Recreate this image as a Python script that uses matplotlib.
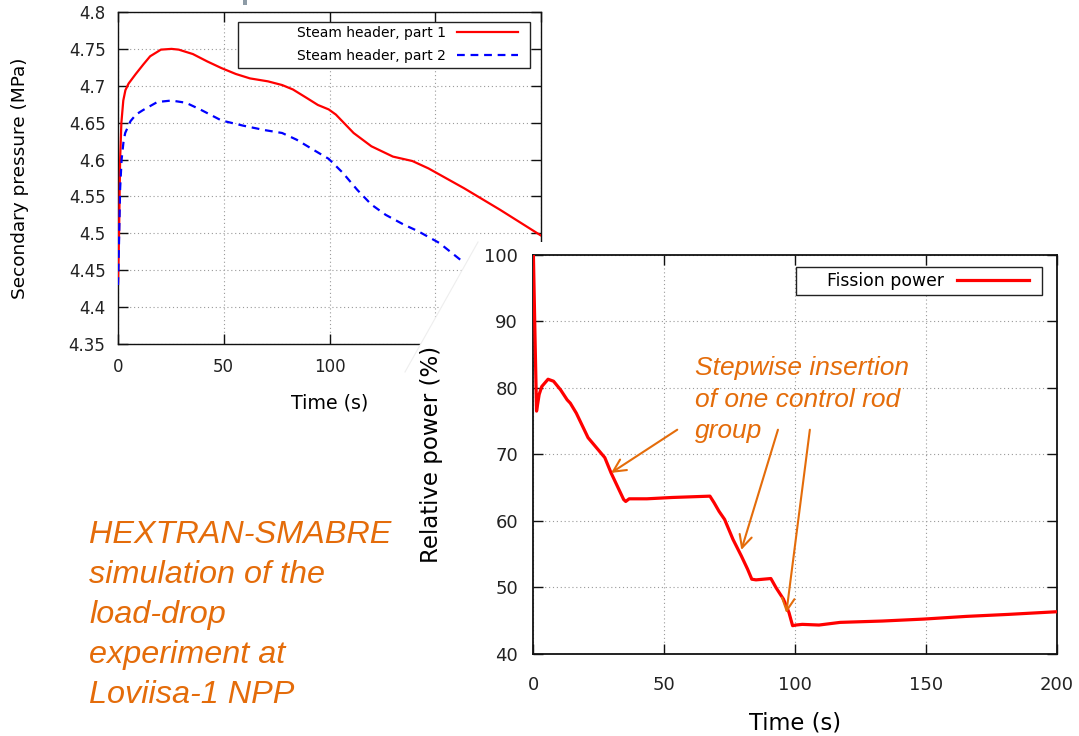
import matplotlib
matplotlib.use("Agg")
import matplotlib.pyplot as plt
from matplotlib.patches import Polygon, Rectangle
from matplotlib.lines import Line2D
from matplotlib.ticker import FuncFormatter

W, H, DPI = 1079, 736, 100

# Secondary side: steam header pressure (MPa) vs time (s)
t_header1 = [0, 0.5, 1.0, 1.6, 2.5, 3.5, 5.0, 8.4, 12.0, 15.2, 20.3, 25.3, 28.7,
             35.4, 42.2, 48.9, 55.7, 62.4, 70.9, 77.6, 82.7, 89.5, 94.5, 99.6,
             103.0, 111.4, 119.8, 130.0, 139.2, 146.8, 163.7, 180.6, 200]
p_header1 = [4.432, 4.50, 4.60, 4.650, 4.680, 4.694, 4.703, 4.716, 4.729, 4.740,
             4.749, 4.750, 4.749, 4.743, 4.733, 4.724, 4.716, 4.710, 4.706, 4.701,
             4.695, 4.683, 4.674, 4.668, 4.661, 4.636, 4.618, 4.604, 4.598, 4.588,
             4.561, 4.532, 4.497]
t_header2 = [0, 0.5, 1.0, 1.7, 2.6, 3.4, 5.9, 8.5, 11.8, 18.6, 25.3, 32.1, 38.8,
             48.9, 59.1, 69.2, 77.6, 84.4, 93.7, 99.6, 106.3, 113.1, 119.8, 126.6,
             135.0, 141.8, 151.9, 163.7]
p_header2 = [4.430, 4.49, 4.56, 4.600, 4.624, 4.636, 4.652, 4.661, 4.667, 4.678,
             4.680, 4.677, 4.668, 4.653, 4.646, 4.640, 4.636, 4.627, 4.611, 4.601,
             4.582, 4.559, 4.539, 4.525, 4.512, 4.503, 4.487, 4.460]

# Core: relative fission power (%) vs time (s)
t_power = [0, 0.6, 1.2, 2.2, 3.2, 5.6, 7.7, 10.4, 12.9, 14.1, 16.4, 20.9, 24.1,
           27.3, 29.7, 32.1, 34.5, 35.3, 36.6, 43.4, 53.0, 67.5, 69.1, 71.0, 73.1,
           76.3, 79.5, 81.9, 83.5, 85.1, 90.8, 92.8, 95.6, 97.7, 99.1, 100.4, 102.8,
           109.2, 117.3, 133.3, 149.4, 165.5, 181.5, 200]
power = [100, 88, 76.5, 79.0, 80.2, 81.3, 81.0, 79.7, 78.2, 77.7, 76.2, 72.5, 71.0,
         69.5, 67.2, 65.2, 63.2, 62.9, 63.3, 63.3, 63.5, 63.7, 62.7, 61.4, 60.2,
         57.2, 54.7, 52.7, 51.2, 51.1, 51.3, 49.9, 48.2, 46.2, 44.2, 44.3, 44.4,
         44.3, 44.7, 44.9, 45.2, 45.6, 45.9, 46.3]

time_ticks = [0, 50, 100, 150, 200]
pressure_ticks = [4.35, 4.4, 4.45, 4.5, 4.55, 4.6, 4.65, 4.7, 4.75, 4.8]
power_ticks = [40, 50, 60, 70, 80, 90, 100]

ORANGE = "#E46C0A"
plt.rcParams["font.family"] = ["DejaVu Sans"]


def px(x, y):
    """Pixel position (from top-left) to figure fraction."""
    return x / W, 1 - y / H


def gnuplot_axes(ax, spine_lw, label_color="#222222"):
    for s in ax.spines.values():
        s.set_linewidth(spine_lw)
        s.set_color("#111111")
    ax.tick_params(which="major", direction="in", top=True, right=True,
                   length=7, width=1.0, color="#111111", labelcolor=label_color)
    ax.grid(True, color="#9a9a9a", linewidth=0.8, linestyle=(0, (1, 2.5)))
    ax.set_axisbelow(True)


fig = plt.figure(figsize=(W / DPI, H / DPI), dpi=DPI)

# ---------------- pressure chart ----------------
ax1 = fig.add_axes([118 / W, 1 - 344 / H, 423 / W, 332 / H], zorder=0)
ax1.set_facecolor("white")
gnuplot_axes(ax1, 1.0)
ax1.plot(t_header1, p_header1, color="#ff0000", lw=1.6, solid_joinstyle="round",
         label="Steam header, part 1", zorder=3)
ax1.plot(t_header2, p_header2, color="#0000ff", lw=1.6, dashes=(3.5, 2.6),
         label="Steam header, part 2", zorder=3)
ax1.set_xlim(0, 200)
ax1.set_ylim(4.35, 4.8)
ax1.set_xticks(time_ticks)
ax1.set_yticks(pressure_ticks)
ax1.yaxis.set_major_formatter(FuncFormatter(lambda v, p: f"{v:g}"))
ax1.tick_params(axis="y", labelsize=12, pad=9)
ax1.tick_params(axis="x", labelsize=12, pad=10)
ax1.set_xlabel("Time (s)", fontsize=13.7)
ax1.set_ylabel("Secondary pressure (MPa)", fontsize=13.3)
ax1.xaxis.set_label_coords(0.5, -0.178)
ax1.xaxis.label.set_verticalalignment("center")
ax1.yaxis.set_label_coords(-0.232, 0.5)
ax1.yaxis.label.set_verticalalignment("center")

ax1.add_patch(Rectangle((0.2837, 0.8313), 0.974 - 0.2837, 0.9699 - 0.8313,
                        transform=ax1.transAxes, facecolor="white",
                        edgecolor="#222222", lw=1.0, zorder=4))
leg1 = ax1.legend(loc="center right", bbox_to_anchor=(0.9456, 0.902),
                  frameon=False, markerfirst=False, fontsize=10,
                  handlelength=4.4, handletextpad=0.8, labelspacing=0.65,
                  borderpad=0, borderaxespad=0)
leg1.set_zorder(5)

# white sheet carrying the power chart, laid over the pressure chart
sheet = Polygon([px(478, 242), px(1079, 242), px(1079, 736), px(200, 736)],
                closed=True, transform=fig.transFigure, facecolor="white",
                edgecolor="none", zorder=1)
fig.add_artist(sheet)
fig.add_artist(Line2D([478 / W, 405 / W], [1 - 242 / H, 1 - 372 / H],
                      transform=fig.transFigure, color="#eeeeee", lw=0.8, zorder=1))

# time labels 150 and 200 of the pressure chart lie under the sheet
fig.canvas.draw()
for lbl in ax1.get_xticklabels():
    if lbl.get_text() in ("150", "200"):
        lbl.set_visible(False)

# ---------------- power chart ----------------
ax2 = fig.add_axes([533.4 / W, 1 - 653.6 / H, 523.1 / W, 398.6 / H], zorder=2)
ax2.set_facecolor("white")
gnuplot_axes(ax2, 1.3)
ax2.plot(t_power, power, color="#ff0000", lw=2.3, label="Fission power",
         solid_joinstyle="round", zorder=3)
ax2.set_xlim(0, 200)
ax2.set_ylim(40, 100)
ax2.set_xticks(time_ticks)
ax2.set_yticks(power_ticks)
ax2.tick_params(axis="y", labelsize=13, pad=11)
ax2.tick_params(axis="x", labelsize=13, pad=16)
ax2.set_xlabel("Time (s)", fontsize=16.3)
ax2.set_ylabel("Relative power (%)", fontsize=16.5)
ax2.xaxis.set_label_coords(0.5, -0.174)
ax2.xaxis.label.set_verticalalignment("center")
ax2.yaxis.set_label_coords(-0.1948, 0.5)
ax2.yaxis.label.set_verticalalignment("center")

ax2.add_patch(Rectangle((0.502, 0.8997), 0.9723 - 0.502, 0.9699 - 0.8997,
                        transform=ax2.transAxes, facecolor="white",
                        edgecolor="#222222", lw=1.0, zorder=4))
leg2 = ax2.legend(loc="center right", bbox_to_anchor=(0.9474, 0.9348),
                  frameon=False, markerfirst=False, fontsize=12.4,
                  handlelength=4.2, handletextpad=0.73,
                  borderpad=0, borderaxespad=0)
leg2.set_zorder(5)

# control rod insertion note with arrows to the three steps
# (multi-line text: "baseline" anchors the last line)
ax2.text(0.3085, (653.6 - 438) / 398.6,
         "Stepwise insertion\nof one control rod\ngroup",
         transform=ax2.transAxes, ha="left", va="baseline", color=ORANGE,
         fontsize=19, style="italic", family="Liberation Sans",
         linespacing=1.39, zorder=6)
arrow_props = dict(arrowstyle="->,head_length=0.9,head_width=0.45",
                   color=ORANGE, lw=1.5, shrinkA=0, shrinkB=0)
for start, tip in [((55.0, 73.7), (29.7, 67.2)),
                   ((93.5, 73.7), (79.5, 55.6)),
                   ((105.7, 73.7), (96.7, 46.1))]:
    ax2.annotate("", xy=tip, xytext=start, arrowprops=arrow_props,
                 annotation_clip=False, zorder=6)

# caption
fig.text(89 / W, 1 - 703 / H,
         "HEXTRAN-SMABRE\nsimulation of the\nload-drop\nexperiment at\nLoviisa-1 NPP",
         ha="left", va="baseline", color=ORANGE, fontsize=23.3, style="italic",
         family="Liberation Sans", linespacing=1.435, zorder=6)

# cut-off title stroke at the top edge
fig.add_artist(Rectangle(px(242.5, 5), 4 / W, 5 / H, transform=fig.transFigure,
                         facecolor="#8d9ba6", edgecolor="none", zorder=6))

fig.savefig("out.png", dpi=DPI, facecolor="white")
